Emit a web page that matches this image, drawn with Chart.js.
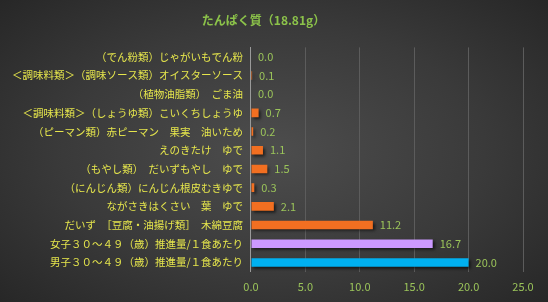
<!DOCTYPE html>
<html>
<head>
<meta charset="utf-8">
<script src="https://cdn.jsdelivr.net/npm/chart.js@4"></script>
<style>
  html, body { margin: 0; padding: 0; }
  #wrap {
    width: 548px; height: 302px;
    background: radial-gradient(ellipse 70% 75% at 50% 50%, #4d4d4d 0%, #3a3a3a 55%, #262626 100%);
  }
</style>
</head>
<body>
<div id="wrap"><canvas id="chart" width="548" height="302"></canvas></div>
<script>
// 食品名（上から順）
const labels = [
    '（でん粉類）じゃがいもでん粉',
    '＜調味料類＞（調味ソース類）オイスターソース',
    '（植物油脂類）　ごま油',
    '＜調味料類＞（しょうゆ類）こいくちしょうゆ',
    '（ピーマン類）赤ピーマン　果実　油いため',
    'えのきたけ　ゆで',
    '（もやし類）　だいずもやし　ゆで',
    '（にんじん類）にんじん根皮むきゆで',
    'ながさきはくさい　葉　ゆで',
    'だいず　［豆腐・油揚げ類］　木綿豆腐',
    '女子３０～４９（歳）推進量/１食あたり',
    '男子３０～４９（歳）推進量/１食あたり'
];
const values = [0.0, 0.1, 0.0, 0.7, 0.2, 1.1, 1.5, 0.3, 2.1, 11.2, 16.7, 20.0];
const barColors = ['#f26f21', '#f26f21', '#f26f21', '#f26f21', '#f26f21', '#f26f21',
    '#f26f21', '#f26f21', '#f26f21', '#f26f21', '#cc99ff', '#00b0f0'];
const xTicks = [0, 5, 10, 15, 20, 25];

const font = "'Noto Sans CJK JP', 'Noto Sans', sans-serif";

// 数値ラベルを棒の右に描く
const valueLabels = {
    id: 'valueLabels',
    afterDatasetsDraw(chart) {
        const ctx = chart.ctx;
        const meta = chart.getDatasetMeta(0);
        ctx.save();
        ctx.font = '11px ' + font;
        ctx.fillStyle = '#9bc45a';
        ctx.textBaseline = 'middle';
        meta.data.forEach((bar, i) => {
            ctx.fillText(values[i].toFixed(1), bar.x + 7, bar.y);
        });
        ctx.restore();
    }
};

// 棒の影
const barShadow = {
    id: 'barShadow',
    beforeDatasetsDraw(chart) {
        const ctx = chart.ctx;
        ctx.save();
        ctx.shadowColor = 'rgba(0,0,0,0.6)';
        ctx.shadowOffsetX = 2;
        ctx.shadowOffsetY = 2;
        ctx.shadowBlur = 3;
    },
    afterDatasetsDraw(chart) {
        chart.ctx.restore();
    }
};

new Chart(document.getElementById('chart').getContext('2d'), {
    type: 'bar',
    data: {
        labels: labels,
        datasets: [{
            data: values,
            backgroundColor: barColors,
            borderWidth: 0,
            barPercentage: 0.46,
            categoryPercentage: 1.0
        }]
    },
    plugins: [barShadow, valueLabels],
    options: {
        indexAxis: 'y',
        responsive: false,
        animation: false,
        layout: { padding: { left: 4, right: 25, top: 0, bottom: 1 } },
        plugins: {
            legend: { display: false },
            tooltip: { enabled: false },
            title: {
                display: true,
                text: 'たんぱく質（18.81g）',
                color: '#8cc34a',
                font: { family: font, size: 12, weight: 'bold' },
                padding: { top: 13, bottom: 20 }
            }
        },
        scales: {
            x: {
                min: 0,
                max: 25,
                afterBuildTicks(axis) {
                    axis.ticks = xTicks.map(v => ({ value: v }));
                },
                ticks: {
                    color: '#9bc45a',
                    font: { family: font, size: 11 },
                    padding: 8,
                    callback: v => v.toFixed(1)
                },
                grid: {
                    color: '#5c5c5c',
                    drawTicks: false
                },
                border: { display: false }
            },
            y: {
                ticks: {
                    color: '#e6e64c',
                    font: { family: font, size: 10.5 },
                    padding: 8,
                    autoSkip: false
                },
                grid: { display: false, drawTicks: false },
                border: { display: true, color: '#9a9a9a', width: 1 }
            }
        }
    }
});
</script>
</body>
</html>
